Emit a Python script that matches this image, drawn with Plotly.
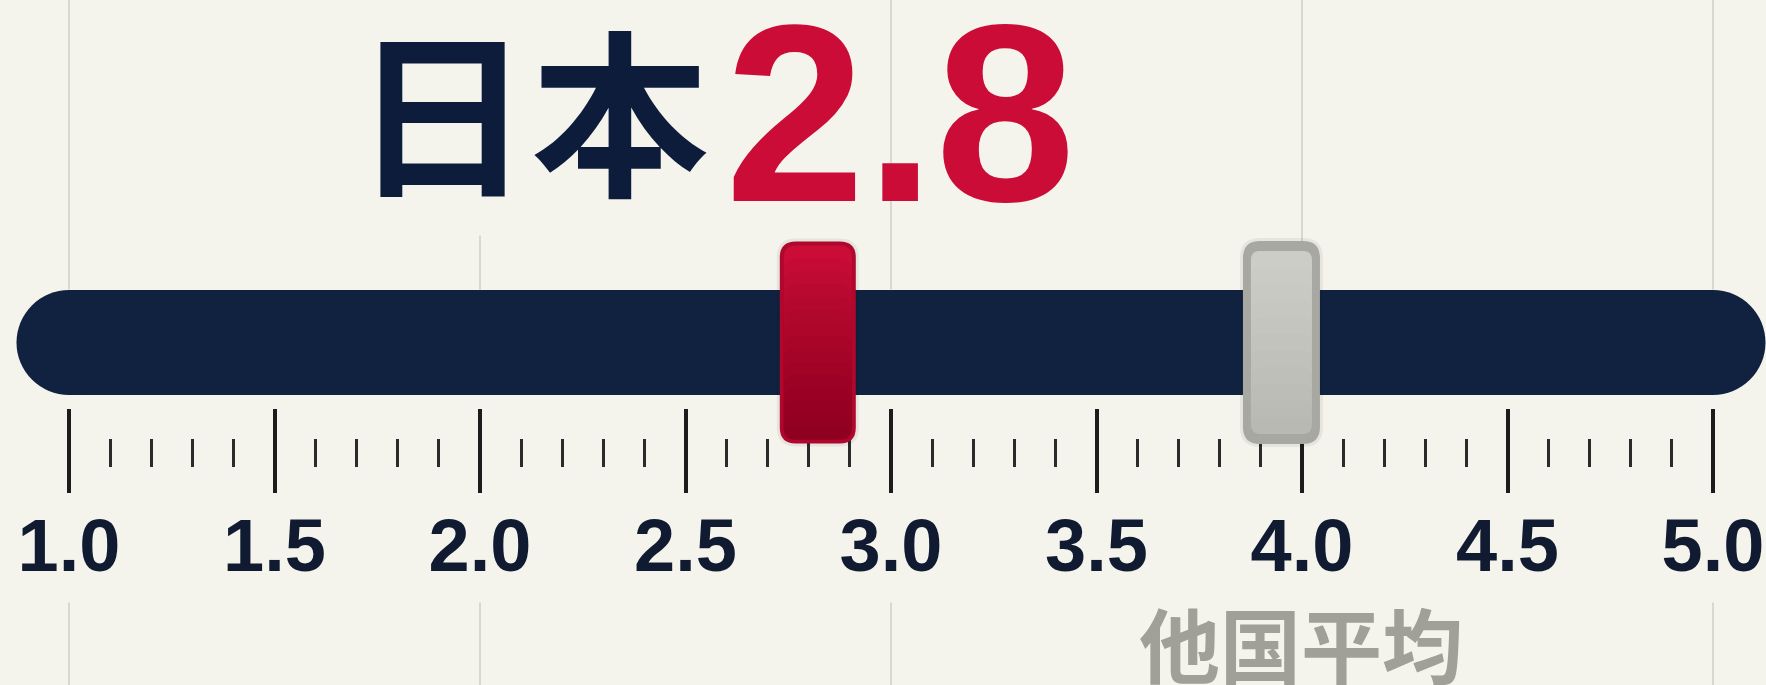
import plotly.graph_objects as go

# ---- data ----
scale_min = 1.0
scale_max = 5.0
major_tick_values = [1.0, 1.5, 2.0, 2.5, 3.0, 3.5, 4.0, 4.5, 5.0]
major_tick_labels = ["1.0", "1.5", "2.0", "2.5", "3.0", "3.5", "4.0", "4.5", "5.0"]
minor_tick_values = [1.1, 1.2, 1.3, 1.4, 1.6, 1.7, 1.8, 1.9,
                     2.1, 2.2, 2.3, 2.4, 2.6, 2.7, 2.8, 2.9,
                     3.1, 3.2, 3.3, 3.4, 3.6, 3.7, 3.8, 3.9,
                     4.1, 4.2, 4.3, 4.4, 4.6, 4.7, 4.8, 4.9]
grid_values = [1.0, 2.0, 3.0, 4.0, 5.0]
japan_label = "日本"
japan_value = 2.8
others_label = "他国平均"
others_value = 3.95

# ---- style ----
W, H = 1766, 685
BG = "#f4f4ec"
NAVY = "#10223f"
RED = "#cb0c37"
GRID = "#d8d8d0"
TICK = "#1c1c1c"
NUM_FONT = "Liberation Sans, Arial, sans-serif"
CJK_FONT = "Noto Sans CJK JP, Noto Sans CJK SC, sans-serif"

PX_PER_UNIT = 411.0
LEFT_PX = 69.0
x_lo = scale_min - LEFT_PX / PX_PER_UNIT
x_hi = x_lo + W / PX_PER_UNIT


def rrect(w, h, r, cx=0.0, cy=0.0):
    x0, x1 = cx - w / 2, cx + w / 2
    y0, y1 = cy - h / 2, cy + h / 2
    return (f"M {x0+r},{y0} L {x1-r},{y0} Q {x1},{y0} {x1},{y0+r} "
            f"L {x1},{y1-r} Q {x1},{y1} {x1-r},{y1} L {x0+r},{y1} "
            f"Q {x0},{y1} {x0},{y1-r} L {x0},{y0+r} Q {x0},{y0} {x0+r},{y0} Z")


fig = go.Figure()

# track (pill) bar
fig.add_trace(go.Scatter(
    x=[scale_min, scale_max], y=[0, 0], mode="lines+markers",
    line=dict(color=NAVY, width=105),
    marker=dict(color=NAVY, size=105, line=dict(width=0)),
    hoverinfo="skip", showlegend=False))

# dummy trace for minor-tick axis
fig.add_trace(go.Scatter(x=[scale_min, scale_max], y=[None, None], xaxis="x2",
                         mode="markers", hoverinfo="skip", showlegend=False))

shapes = []
# grid lines (above track and below labels)
for g in grid_values:
    shapes.append(dict(type="line", xref="x", yref="y", x0=g, x1=g, y0=53, y1=343,
                       line=dict(color=GRID, width=2), layer="below"))
    shapes.append(dict(type="line", xref="x", yref="y", x0=g, x1=g, y0=-260, y1=-343,
                       line=dict(color=GRID, width=2), layer="below"))


def handle(value, w, h, r, outer, inner, inset_x, inset_y, shade, steps, dx=0.0, op=0.12):
    def sh(path, fill, opacity=1.0):
        return dict(type="path", xref="x", yref="y", xsizemode="pixel", ysizemode="pixel",
                    xanchor=value, yanchor=0, path=path, fillcolor=fill, opacity=opacity,
                    line=dict(width=0), layer="above")
    out = [sh(rrect(w + 6, h + 6, r + 3, dx), "rgba(0,0,0,0.06)"),
           sh(rrect(w, h, r, dx), outer)]
    iw, ih = w - 2 * inset_x, h - 2 * inset_y
    ir = max(r - inset_x, 3)
    out.append(sh(rrect(iw, ih, ir, dx), inner))
    for i in range(1, steps + 1):
        bh = ih * i / (steps + 1)
        out.append(sh(rrect(iw, bh, min(ir, bh / 2), dx, -ih / 2 + bh / 2), shade, op))
    return out


shapes += handle(japan_value, 76, 202, 16, "#b0072d", RED, 4, 4, "#6a0018", 14, dx=9, op=0.05)
shapes += handle(others_value, 77, 203, 17, "#a8a8a3", "#cdcdc8", 8, 10, "#8a8a85", 10, op=0.025)

annotations = [
    dict(text=japan_label, xref="paper", yref="paper", x=531 / W, y=1 - 105 / H,
         xanchor="center", yanchor="middle", showarrow=False, bgcolor=BG,
         font=dict(family=CJK_FONT, size=178, color="#0d1c3b", weight=700)),
    dict(text=f"{japan_value:.1f}", xref="paper", yref="paper", x=900 / W, y=1 - 114 / H,
         xanchor="center", yanchor="middle", showarrow=False,
         font=dict(family=NUM_FONT, size=252, color=RED, weight=700)),
    dict(text=others_label, xref="x", yref="paper", x=others_value, xshift=20, y=1 - 641 / H,
         xanchor="center", yanchor="middle", showarrow=False, bgcolor=BG,
         font=dict(family=CJK_FONT, size=81, color="#a09f98", weight=700)),
]

fig.update_layout(
    width=W, height=H, autosize=False,
    margin=dict(l=0, r=0, t=0, b=0, pad=0),
    paper_bgcolor=BG, plot_bgcolor=BG,
    showlegend=False,
    xaxis=dict(range=[x_lo, x_hi], fixedrange=True, anchor="free", position=1 - 408 / H,
               showgrid=False, zeroline=False, showline=False,
               tickmode="array", tickvals=major_tick_values, ticktext=major_tick_labels,
               ticks="outside", ticklen=84, tickwidth=4, tickcolor=TICK,
               ticklabelstandoff=-11, ticklabeloverflow="allow",
               tickfont=dict(family=NUM_FONT, size=74, color="#101a30", weight=700)),
    xaxis2=dict(range=[x_lo, x_hi], fixedrange=True, overlaying="x", anchor="free",
                position=1 - 438 / H, showgrid=False, zeroline=False, showline=False,
                tickmode="array", tickvals=minor_tick_values, showticklabels=False,
                ticks="outside", ticklen=28, tickwidth=3, tickcolor="#2a2a2a"),
    yaxis=dict(range=[-H / 2, H / 2], visible=False, fixedrange=True),
    shapes=shapes,
    annotations=annotations,
)

fig.write_html("out.html", config={"displayModeBar": False})
